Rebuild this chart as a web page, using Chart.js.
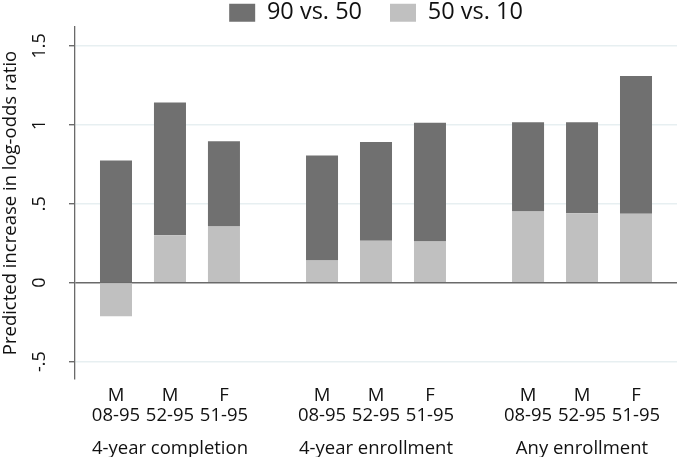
<!DOCTYPE html>
<html>
<head>
<meta charset="utf-8">
<script src="https://cdn.jsdelivr.net/npm/chart.js@4.4.1/dist/chart.umd.min.js"></script>
<style>
  html, body { margin: 0; padding: 0; background: #ffffff; }
  #wrap { width: 677px; height: 457px; }
</style>
</head>
<body>
<div id="wrap"><canvas id="c" width="677" height="457"></canvas></div>
<script>
// ---- data ----
const groups = ['4-year completion', '4-year enrollment', 'Any enrollment'];
const sexes = ['M', 'M', 'F'];
const cohorts = ['08-95', '52-95', '51-95'];
// rows: groups, columns: cohorts
const gap90v50 = [
  [0.774, 0.840, 0.540],
  [0.665, 0.626, 0.753],
  [0.565, 0.576, 0.873]
];
const gap50v10 = [
  [-0.213, 0.301, 0.356],
  [0.141, 0.266, 0.261],
  [0.451, 0.440, 0.437]
];
const yTicks = [-0.5, 0, 0.5, 1, 1.5];
const yTickLabels = ['-.5', '0', '.5', '1', '1.5'];
const seriesNames = ['90 vs. 50', '50 vs. 10'];

// ---- styling ----
const DARK = '#707070';
const LIGHT = '#c0c0c0';
const AXIS = '#6a6a6a';
const GRID = '#e7eff1';
const TEXT = '#111111';
const FONT = "'Open Sans', 'Noto Sans', sans-serif";

const datasets = [];
cohorts.forEach((c, j) => {
  datasets.push({
    label: seriesNames[1],
    data: groups.map((g, i) => gap50v10[i][j]),
    backgroundColor: LIGHT,
    borderWidth: 0,
    stack: 'c' + j
  });
  datasets.push({
    label: seriesNames[0],
    data: groups.map((g, i) => gap90v50[i][j]),
    backgroundColor: DARK,
    borderWidth: 0,
    stack: 'c' + j
  });
});

const labelsPlugin = {
  id: 'labelsPlugin',
  afterDraw(chart) {
    const ctx = chart.ctx;
    const area = chart.chartArea;
    ctx.save();
    ctx.fillStyle = TEXT;
    ctx.font = '18.5px ' + FONT;
    ctx.textAlign = 'center';
    ctx.textBaseline = 'middle';
    // per-bar labels under each bar
    cohorts.forEach((c, j) => {
      const meta = chart.getDatasetMeta(2 * j);
      meta.data.forEach((el) => {
        ctx.fillText(sexes[j], el.x, area.bottom + 17);
        ctx.fillText(c, el.x, area.bottom + 37);
      });
    });
    // rotated y tick labels
    const ys = chart.scales.y;
    ctx.font = '18px ' + FONT;
    yTicks.forEach((v, k) => {
      const y = ys.getPixelForValue(v);
      ctx.save();
      ctx.translate(area.left - 35, y);
      ctx.rotate(-Math.PI / 2);
      ctx.fillText(yTickLabels[k], 0, 0);
      ctx.restore();
    });
    ctx.restore();
  }
};

new Chart(document.getElementById('c'), {
  type: 'bar',
  data: { labels: groups.map((g, i) => i), datasets },
  plugins: [labelsPlugin],
  options: {
    responsive: false,
    animation: false,
    layout: { padding: { top: -27, left: 0, right: 0, bottom: 0 } },
    categoryPercentage: 0.786,
    barPercentage: 0.593,
    plugins: {
      tooltip: { enabled: false },
      title: { display: false },
      legend: {
        display: true,
        position: 'top',
        fullSize: false,
        reverse: true,
        maxHeight: 54,
        labels: {
          filter: (item) => item.datasetIndex < 2,
          boxWidth: 26,
          boxHeight: 18,
          padding: 28,
          color: TEXT,
          font: { family: FONT, size: 23.5 }
        }
      }
    },
    scales: {
      x: {
        type: 'linear',
        offset: false,
        min: -0.461,
        max: 2.461,
        grid: { display: false, offset: false },
        border: { display: false },
        afterBuildTicks: (s) => { s.ticks = groups.map((g, i) => ({ value: i })); },
        afterFit: (s) => { s.height = 78; s.paddingLeft = 0; s.paddingRight = 0; },
        ticks: {
          autoSkip: false,
          maxRotation: 0,
          minRotation: 0,
          padding: 51,
          color: TEXT,
          font: { family: FONT, size: 18.5 },
          callback: (v) => groups[v]
        }
      },
      y: {
        min: -0.61,
        max: 1.62,
        afterBuildTicks: (s) => { s.ticks = yTicks.map((v) => ({ value: v })); },
        afterFit: (s) => { s.width = 75; s.paddingTop = 0; s.paddingBottom = 0; },
        ticks: { display: false },
        grid: {
          color: (c) => (c.tick && c.tick.value === 0 ? AXIS : GRID),
          lineWidth: 1.4,
          tickColor: AXIS,
          tickLength: 6,
          drawTicks: true
        },
        border: { display: true, color: AXIS, width: 1.3 },
        title: {
          display: true,
          text: 'Predicted increase in log-odds ratio',
          color: TEXT,
          font: { family: FONT, size: 18.5 },
          padding: { top: 0, bottom: 0 }
        }
      }
    }
  }
});
</script>
</body>
</html>
